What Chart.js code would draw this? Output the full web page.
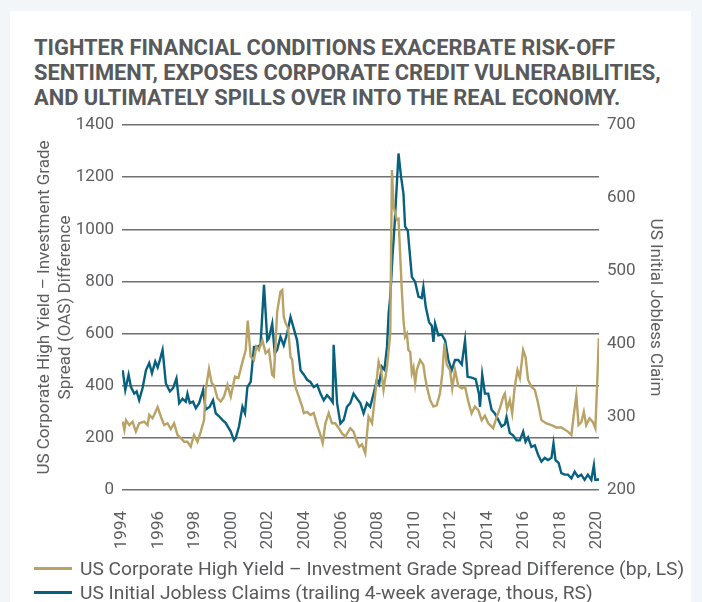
<!DOCTYPE html>
<html>
<head>
<meta charset="utf-8">
<script src="https://cdn.jsdelivr.net/npm/chart.js@4.4.1/dist/chart.umd.min.js"></script>
<style>
  html, body { margin: 0; padding: 0; }
  body { width: 702px; height: 602px; background: #f2f6f9; position: relative; overflow: hidden; font-family: Roboto, "Noto Sans", sans-serif; }
  #panel { position: absolute; left: 10px; top: 11px; width: 681px; height: 600px; background: #fff; }
  #title { position: absolute; left: 34px; top: 35px; font-family: "Liberation Sans Narrow", "Roboto", sans-serif; font-weight: bold; font-size: 21.9px; line-height: 25px; color: #58595b; }
  #chart { position: absolute; left: 0; top: 0; }
  .leg { position: absolute; left: 34px; font-size: 19.2px; line-height: 22px; color: #58595b; white-space: nowrap; }
  .leg i { display: inline-block; width: 38px; height: 3px; vertical-align: middle; margin-right: 8px; position: relative; top: -1px; }
</style>
</head>
<body>
<div id="panel"></div>
<div id="title">TIGHTER FINANCIAL CONDITIONS EXACERBATE RISK-OFF<br>SENTIMENT, EXPOSES CORPORATE CREDIT VULNERABILITIES,<br>AND ULTIMATELY SPILLS OVER INTO THE REAL ECONOMY.</div>
<canvas id="chart" width="702" height="602"></canvas>
<div class="leg" id="leg1" style="top:558px"><i style="background:#b8a266"></i>US Corporate High Yield – Investment Grade Spread Difference (bp, LS)</div>
<div class="leg" id="leg2" style="top:582px"><i style="background:#07607e"></i>US Initial Jobless Claims (trailing 4-week average, thous, RS)</div>
<script>
// x 축 눈금 (연도)
const yearTicks = [1994, 1996, 1998, 2000, 2002, 2004, 2006, 2008, 2010, 2012, 2014, 2016, 2018, 2020];

// HY - IG 스프레드 차이 (bp, 왼쪽 축)
const spreadDates = [
  1994.04, 1994.13, 1994.22, 1994.40, 1994.58, 1994.76, 1994.94, 1995.22, 1995.40, 1995.49,
  1995.67, 1995.76, 1995.95, 1996.13, 1996.31, 1996.49, 1996.67, 1996.85, 1997.04, 1997.22,
  1997.40, 1997.58, 1997.76, 1997.94, 1998.13, 1998.31, 1998.49, 1998.58, 1998.76, 1998.91,
  1999.04, 1999.22, 1999.40, 1999.58, 1999.77, 1999.95, 2000.18, 2000.37, 2000.55, 2000.77,
  2000.88, 2001.04, 2001.22, 2001.35, 2001.49, 2001.68, 2001.86, 2002.04, 2002.22, 2002.31,
  2002.49, 2002.67, 2002.77, 2002.85, 2002.95, 2003.09, 2003.22, 2003.31, 2003.40, 2003.49,
  2003.67, 2003.86, 2003.95, 2004.13, 2004.31, 2004.49, 2004.68, 2004.86, 2004.98, 2005.13,
  2005.31, 2005.49, 2005.67, 2005.86, 2006.04, 2006.22, 2006.49, 2006.67, 2006.86, 2006.98,
  2007.13, 2007.31, 2007.49, 2007.68, 2007.86, 2008.04, 2008.18, 2008.31, 2008.50, 2008.68,
  2008.77, 2008.86, 2009.04, 2009.13, 2009.31, 2009.40, 2009.49, 2009.59, 2009.67, 2009.77,
  2009.86, 2009.95, 2010.04, 2010.13, 2010.31, 2010.49, 2010.58, 2010.68, 2010.86, 2011.04,
  2011.22, 2011.40, 2011.53, 2011.64, 2011.77, 2011.95, 2012.07, 2012.22, 2012.40, 2012.59,
  2012.77, 2012.95, 2013.13, 2013.31, 2013.49, 2013.68, 2013.86, 2014.04, 2014.31, 2014.50,
  2014.68, 2014.86, 2014.95, 2015.07, 2015.22, 2015.35, 2015.49, 2015.64, 2015.77, 2015.95,
  2016.08, 2016.22, 2016.40, 2016.59, 2016.77, 2016.95, 2017.22, 2017.50, 2017.77, 2018.04,
  2018.40, 2018.59, 2018.73, 2018.86, 2018.98, 2019.13, 2019.27, 2019.40, 2019.58, 2019.77,
  2019.90, 2020.00, 2020.09
];
const spreadValues = [
  262, 230, 268, 249, 262, 224, 256, 262, 249, 288,
  275, 288, 318, 281, 249, 256, 234, 256, 211, 199,
  185, 185, 166, 211, 185, 224, 268, 384, 464, 410,
  400, 353, 339, 358, 403, 358, 435, 430, 480, 537,
  650, 511, 499, 550, 537, 575, 525, 537, 441, 435,
  684, 761, 767, 665, 640, 621, 511, 500, 435, 396,
  358, 320, 295, 300, 288, 295, 249, 211, 180, 256,
  295, 256, 256, 237, 217, 205, 237, 224, 185, 166,
  175, 141, 281, 256, 371, 492, 460, 384, 473, 601,
  1227, 1087, 1036, 1040, 767, 652, 588, 600, 537, 530,
  448, 470, 409, 460, 499, 480, 435, 396, 345, 320,
  325, 371, 448, 563, 480, 460, 390, 460, 400, 390,
  396, 339, 294, 320, 307, 268, 285, 256, 237, 280,
  314, 358, 370, 310, 345, 294, 396, 460, 430, 537,
  510, 422, 396, 384, 332, 268, 255, 249, 240, 240,
  224, 211, 294, 364, 249, 260, 300, 249, 275, 260,
  237, 409, 582
];

// 신규 실업수당 청구건수 4주 평균 (천 건, 오른쪽 축)
const claimsDates = [
  1994.04, 1994.18, 1994.36, 1994.49, 1994.67, 1994.80, 1994.94, 1995.13, 1995.31, 1995.49,
  1995.64, 1995.82, 1995.95, 1996.07, 1996.22, 1996.40, 1996.62, 1996.80, 1996.98, 1997.13,
  1997.31, 1997.49, 1997.58, 1997.71, 1997.89, 1998.04, 1998.22, 1998.44, 1998.58, 1998.80,
  1998.98, 1999.13, 1999.31, 1999.49, 1999.67, 1999.95, 2000.13, 2000.22, 2000.40, 2000.59,
  2000.73, 2000.86, 2001.04, 2001.22, 2001.40, 2001.58, 2001.77, 2001.95, 2002.04, 2002.22,
  2002.36, 2002.49, 2002.67, 2002.85, 2003.04, 2003.22, 2003.40, 2003.58, 2003.77, 2003.95,
  2004.13, 2004.31, 2004.49, 2004.68, 2004.86, 2005.04, 2005.22, 2005.40, 2005.53, 2005.58,
  2005.77, 2005.95, 2006.13, 2006.31, 2006.49, 2006.67, 2006.86, 2007.04, 2007.22, 2007.40,
  2007.58, 2007.77, 2007.95, 2008.07, 2008.22, 2008.36, 2008.50, 2008.59, 2008.68, 2008.80,
  2008.91, 2009.04, 2009.13, 2009.27, 2009.40, 2009.49, 2009.64, 2009.73, 2009.86, 2010.04,
  2010.22, 2010.40, 2010.49, 2010.62, 2010.80, 2010.95, 2011.04, 2011.13, 2011.31, 2011.49,
  2011.68, 2011.86, 2012.04, 2012.22, 2012.40, 2012.59, 2012.77, 2012.91, 2013.13, 2013.35,
  2013.53, 2013.59, 2013.71, 2013.86, 2014.04, 2014.22, 2014.40, 2014.59, 2014.77, 2014.95,
  2015.04, 2015.22, 2015.40, 2015.59, 2015.77, 2015.95, 2016.08, 2016.22, 2016.40, 2016.59,
  2016.77, 2016.95, 2017.13, 2017.31, 2017.50, 2017.61, 2017.72, 2017.89, 2018.04, 2018.22,
  2018.40, 2018.59, 2018.77, 2018.95, 2019.13, 2019.31, 2019.49, 2019.68, 2019.82, 2019.90,
  2020.04, 2020.09
];
const claimsValues = [
  364, 337, 358, 341, 332, 335, 323, 340, 364, 374,
  360, 376, 368, 378, 392, 346, 335, 340, 353, 319,
  325, 321, 332, 319, 321, 312, 319, 337, 310, 314,
  323, 305, 301, 296, 292, 280, 268, 271, 287, 314,
  305, 341, 348, 396, 396, 399, 481, 405, 408, 428,
  387, 392, 410, 398, 415, 437, 421, 405, 364, 358,
  351, 348, 341, 344, 332, 323, 330, 325, 320, 399,
  319, 291, 296, 314, 319, 332, 325, 319, 305, 319,
  314, 332, 351, 345, 369, 365, 396, 442, 465, 520,
  561, 620, 661, 629, 606, 561, 555, 529, 492, 485,
  465, 463, 478, 451, 430, 425, 403, 428, 412, 413,
  405, 378, 364, 378, 378, 372, 405, 355, 354, 352,
  332, 314, 358, 332, 332, 310, 305, 296, 287, 290,
  300, 278, 275, 268, 268, 280, 266, 272, 259, 261,
  248, 239, 244, 241, 244, 264, 241, 237, 223, 221,
  221, 216, 225, 218, 221, 214, 221, 214, 234, 214,
  214, 216
];

const GOLD = "#b8a266";
const TEAL = "#07607e";
const TXT = "#5d5e60";
const tickFont = { family: "Roboto", size: 17 };

const toPts = (xs, ys) => xs.map((x, i) => ({ x, y: ys[i] }));

const ctx = document.getElementById("chart");
new Chart(ctx, {
  type: "line",
  data: {
    datasets: [
      { label: "US Corporate High Yield – Investment Grade Spread Difference (bp, LS)",
        data: toPts(spreadDates, spreadValues), yAxisID: "yL",
        borderColor: GOLD, borderWidth: 2.4, pointRadius: 0, tension: 0 },
      { label: "US Initial Jobless Claims (trailing 4-week average, thous, RS)",
        data: toPts(claimsDates, claimsValues), yAxisID: "yR",
        borderColor: TEAL, borderWidth: 2.4, pointRadius: 0, tension: 0 }
    ]
  },
  options: {
    responsive: false,
    animation: false,
    layout: { padding: { left: 35, right: 37, top: 125, bottom: 30 } },
    plugins: { legend: { display: false }, tooltip: { enabled: false } },
    scales: {
      x: {
        type: "linear", min: 1994, max: 2020.1,
        grid: { display: false }, border: { display: false },
        afterBuildTicks: s => { s.ticks = yearTicks.map(v => ({ value: v })); },
        ticks: { autoSkip: false, minRotation: 90, maxRotation: 90, padding: 13,
                 color: TXT, font: tickFont, callback: v => String(v) },
        afterFit: s => { s.height = 82; }
      },
      yL: {
        position: "left", min: 0, max: 1400,
        grid: { color: "#707173", lineWidth: 1.5, drawTicks: false },
        border: { display: false },
        ticks: { stepSize: 200, padding: 8, color: TXT, font: tickFont, callback: v => String(v) },
        title: { display: true, padding: 0, color: TXT, font: tickFont,
                 text: ["US Corporate High Yield – Investment Grade", "Spread (OAS) Difference"] },
        afterFit: s => { s.width = 87; }
      },
      yR: {
        position: "right", min: 200, max: 700,
        grid: { display: false, drawTicks: false },
        border: { display: false },
        ticks: { stepSize: 100, padding: 8, color: TXT, font: tickFont, callback: v => String(v) },
        title: { display: true, padding: 0, color: TXT, font: tickFont,
                 text: "US Initial Jobless Claim" },
        afterFit: s => { s.width = 66; }
      }
    }
  }
});
</script>
</body>
</html>
